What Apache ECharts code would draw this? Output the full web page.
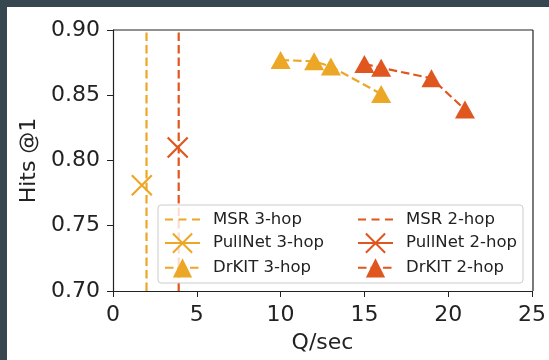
<!DOCTYPE html>
<html>
<head>
<meta charset="utf-8">
<script src="https://cdn.jsdelivr.net/npm/echarts@6/dist/echarts.min.js"></script>
<style>
  html, body { margin: 0; padding: 0; background: #36474f; }
  #chart { position: absolute; left: 7px; top: 7px; width: 542px; height: 353px; background: #ffffff; }
</style>
</head>
<body>
<div id="chart"></div>
<script>
var chartDom = document.getElementById('chart');
var chart = echarts.init(chartDom, null, { renderer: 'canvas' });

// Data
var yRange = [0.70, 0.90];
var msr3x = 2.0;
var msr2x = 3.92;
var pullnet3 = [1.72, 0.781];
var pullnet2 = [3.86, 0.810];
var drkit3x = [10, 12, 13, 16];
var drkit3y = [0.877, 0.876, 0.872, 0.851];
var drkit2x = [15, 16, 19, 21];
var drkit2y = [0.874, 0.871, 0.863, 0.839];

var c3 = '#eca726';
var c2 = '#e0561f';
var ink = '#222';
var font = 'DejaVu Sans';
var xPath = 'path://M0,0L10,10M10,0L0,10';
var dashIcon = 'path://M0,0h8v2h-8z M13.5,0h8v2h-8z M27,0h8v2h-8z';

// plot box (chart coordinates)
var G = { left: 106, top: 23, width: 420, height: 261 };

function pairs(xs, ys) {
    return xs.map(function (x, i) { return [x, ys[i]]; });
}

function legendBlock(left, names) {
    return {
        orient: 'vertical',
        left: left, top: 204, z: 20,
        itemWidth: 35, itemHeight: 24, itemGap: 4.5,
        padding: 0,
        textStyle: { fontSize: 16.5, color: ink, fontFamily: font, padding: [0, 0, 0, 8] },
        data: [
            { name: names[0], icon: dashIcon },
            names[1],
            names[2]
        ]
    };
}

var option = {
    animation: false,
    textStyle: { fontFamily: font },
    grid: G,
    xAxis: {
        type: 'value', min: 0, max: 25, interval: 5,
        name: 'Q/sec', nameLocation: 'middle', nameGap: 41,
        nameTextStyle: { fontSize: 22, color: ink, fontFamily: font },
        axisLine: { show: true, onZero: false, lineStyle: { color: ink, width: 1.2 } },
        axisTick: { show: true, length: 6, lineStyle: { color: ink } },
        axisLabel: { fontSize: 22, color: ink, margin: 13, fontFamily: font },
        splitLine: { show: false }
    },
    yAxis: {
        type: 'value', min: yRange[0], max: yRange[1], interval: 0.05,
        name: 'Hits @1', nameLocation: 'middle', nameGap: 73, nameRotate: 90,
        nameTextStyle: { fontSize: 22, color: ink, fontFamily: font },
        axisLine: { show: true, onZero: false, lineStyle: { color: ink, width: 1.2 } },
        axisTick: { show: true, length: 6, lineStyle: { color: ink } },
        axisLabel: { fontSize: 22, color: ink, margin: 13, fontFamily: font,
            formatter: function (v) { return v.toFixed(2); } },
        splitLine: { show: false }
    },
    legend: [
        legendBlock(157, ['MSR 3-hop', 'PullNet 3-hop', 'DrKIT 3-hop']),
        legendBlock(350, ['MSR 2-hop', 'PullNet 2-hop', 'DrKIT 2-hop'])
    ],
    graphic: [
        // right and top spines of the frame
        { type: 'line', shape: { x1: G.left, y1: G.top, x2: G.left + G.width, y2: G.top },
          style: { stroke: ink, lineWidth: 1.2 }, z: 10 },
        { type: 'line', shape: { x1: G.left + G.width, y1: G.top, x2: G.left + G.width, y2: G.top + G.height },
          style: { stroke: ink, lineWidth: 1.2 }, z: 10 },
        // legend frame
        { type: 'rect', shape: { x: 151, y: 198, width: 365, height: 78, r: 3 },
          style: { fill: 'rgba(255,255,255,0.8)', stroke: '#cccccc', lineWidth: 1 }, z: 5 }
    ],
    series: [
        {
            name: 'MSR 3-hop', type: 'line', symbol: 'none',
            data: [[msr3x, yRange[0]], [msr3x, yRange[1]]],
            lineStyle: { color: c3, width: 2.2, type: [8.5, 4] }, itemStyle: { color: c3 }
        },
        {
            name: 'PullNet 3-hop', type: 'line', symbol: xPath, symbolSize: 20,
            data: [pullnet3],
            lineStyle: { color: c3, width: 2.2 },
            itemStyle: { color: c3, borderColor: c3, borderWidth: 2.2 }
        },
        {
            name: 'DrKIT 3-hop', type: 'line', symbol: 'triangle', symbolSize: [20, 18],
            data: pairs(drkit3x, drkit3y),
            lineStyle: { color: c3, width: 2.2, type: [8.5, 4] },
            itemStyle: { color: c3, borderWidth: 0 }
        },
        {
            name: 'MSR 2-hop', type: 'line', symbol: 'none',
            data: [[msr2x, yRange[0]], [msr2x, yRange[1]]],
            lineStyle: { color: c2, width: 2.2, type: [8.5, 4] }, itemStyle: { color: c2 }
        },
        {
            name: 'PullNet 2-hop', type: 'line', symbol: xPath, symbolSize: 20,
            data: [pullnet2],
            lineStyle: { color: c2, width: 2.2 },
            itemStyle: { color: c2, borderColor: c2, borderWidth: 2.2 }
        },
        {
            name: 'DrKIT 2-hop', type: 'line', symbol: 'triangle', symbolSize: [20, 18],
            data: pairs(drkit2x, drkit2y),
            lineStyle: { color: c2, width: 2.2, type: [8.5, 4] },
            itemStyle: { color: c2, borderWidth: 0 }
        }
    ]
};

chart.setOption(option);
window.addEventListener('resize', function () {
    chart.resize();
});
</script>
</body>
</html>
